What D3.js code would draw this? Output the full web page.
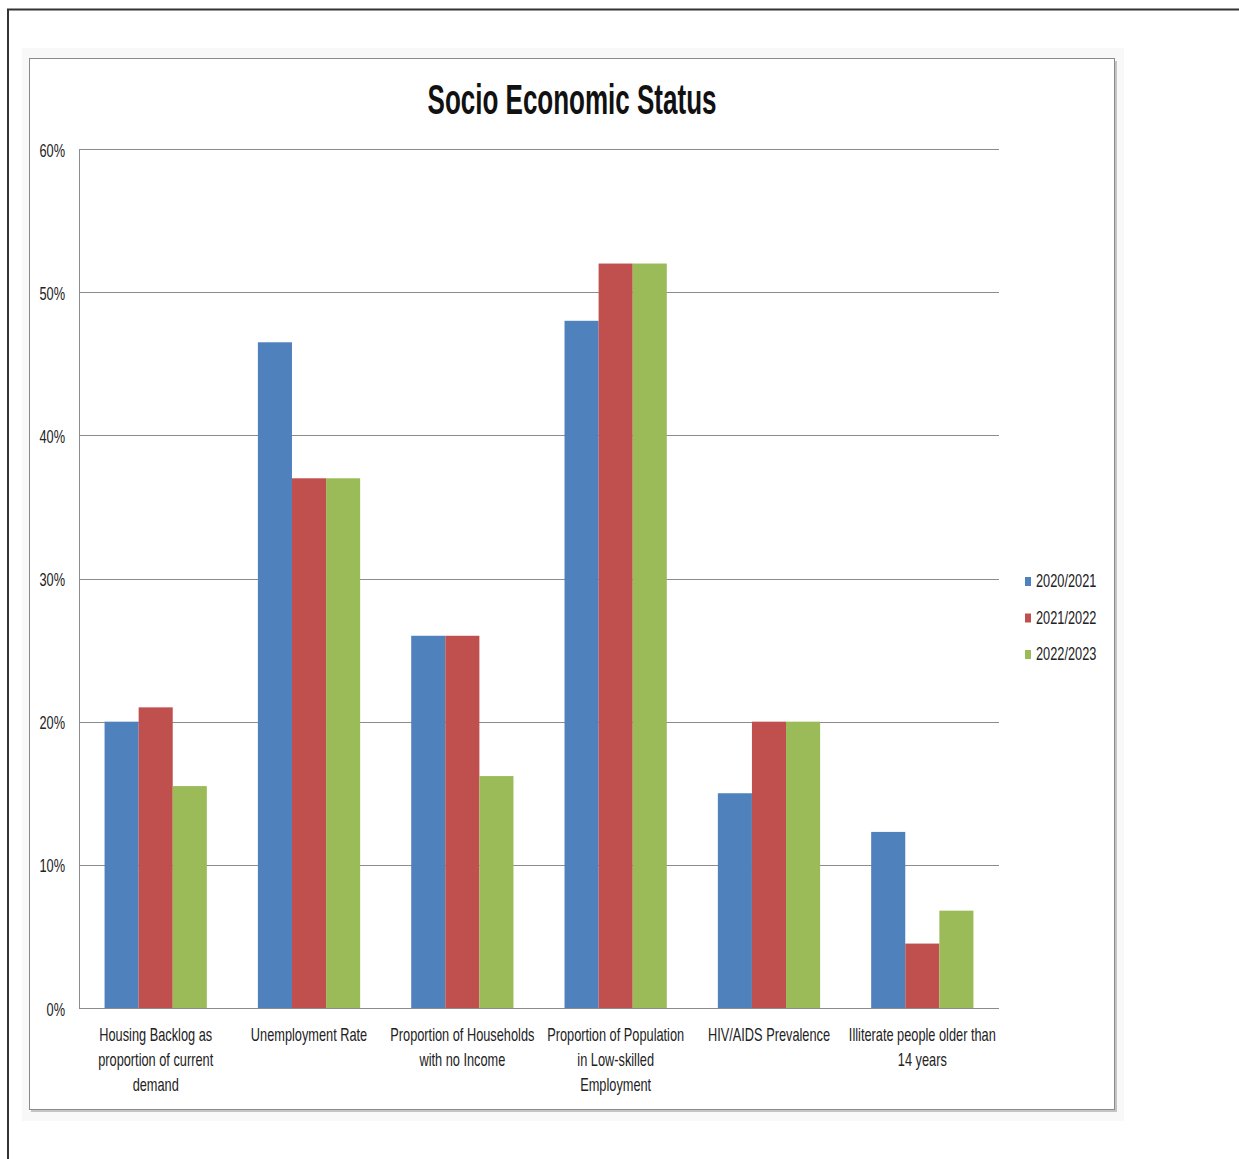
<!DOCTYPE html>
<html><head><meta charset="utf-8">
<script src="https://cdn.jsdelivr.net/npm/d3@7"></script>
<style>html,body{margin:0;padding:0;background:#fff;}svg{display:block;}</style>
</head><body>
<script>
const categories = [
  ["Housing Backlog as", "proportion of current", "demand"],
  ["Unemployment Rate"],
  ["Proportion of Households", "with no Income"],
  ["Proportion of Population", "in Low-skilled", "Employment"],
  ["HIV/AIDS Prevalence"],
  ["Illiterate people older than", "14 years"]
];
const seriesNames = ["2020/2021", "2021/2022", "2022/2023"];
const s2020 = [0.20, 0.465, 0.26, 0.48, 0.15, 0.123];
const s2021 = [0.21, 0.37, 0.26, 0.52, 0.20, 0.045];
const s2022 = [0.155, 0.37, 0.162, 0.52, 0.20, 0.068];
const yTicks = [0, 0.1, 0.2, 0.3, 0.4, 0.5, 0.6];
const colors = ["#4F81BD", "#C0504D", "#9BBB59"];
const title = "Socio Economic Status";

const W = 1239, H = 1159;
const svg = d3.select("body").append("svg").attr("width", W).attr("height", H);
const FONT = "'Liberation Sans', Arial, sans-serif";
const SX = 0.71;

// outer borders
svg.append("rect").attr("x", 8).attr("y", 9.5).attr("width", W + 10).attr("height", H + 10)
  .attr("fill", "none").attr("stroke", "#333").attr("stroke-width", 2);
svg.append("rect").attr("x", 22).attr("y", 48).attr("width", 1102).attr("height", 1073)
  .attr("fill", "#f8f8f8");
// chart frame with shadow
svg.append("rect").attr("x", 31).attr("y", 61).attr("width", 1086).attr("height", 1051).attr("fill", "#c4c4c4");
svg.append("rect").attr("x", 29.5).attr("y", 58.5).attr("width", 1085).attr("height", 1051)
  .attr("fill", "#fff").attr("stroke", "#8a8a8a").attr("stroke-width", 1);

const m = {left: 79, right: 999, top: 149, bottom: 1008};
const x0 = d3.scaleBand().domain(d3.range(categories.length)).range([m.left, m.right]).paddingInner(0.333).paddingOuter(0.1667);
const x1 = d3.scaleBand().domain(d3.range(seriesNames.length)).range([0, x0.bandwidth()]);
const y = d3.scaleLinear().domain([0, 0.6]).range([m.bottom, m.top]);

// gridlines via axis
const yAxis = d3.axisLeft(y).tickValues(yTicks).tickSize(-(m.right - m.left)).tickFormat(d3.format(".0%"));
const gy = svg.append("g").attr("transform", `translate(${m.left},0)`).call(yAxis);
gy.select(".domain").remove();
gy.selectAll(".tick line").attr("stroke", "#8c8c8c").attr("shape-rendering", "crispEdges");
gy.selectAll(".tick text").remove();
gy.selectAll(".tick").each(function(d) {
  d3.select(this).append("text")
    .attr("transform", `translate(-14,7) scale(${SX},1)`)
    .attr("text-anchor", "end").attr("font-family", FONT).attr("font-size", 18).attr("fill", "#222")
    .text(d3.format(".0%")(d));
});
// left axis line
svg.append("line").attr("x1", m.left).attr("x2", m.left).attr("y1", m.top).attr("y2", m.bottom)
  .attr("stroke", "#8c8c8c").attr("shape-rendering", "crispEdges");

// bars
const series = [s2020, s2021, s2022];
const groups = svg.append("g").selectAll("g").data(categories).join("g")
  .attr("transform", (d, i) => `translate(${x0(i)},0)`);
groups.selectAll("rect").data((d, i) => series.map((s, k) => ({k, v: s[i]}))).join("rect")
  .attr("x", d => x1(d.k)).attr("width", x1.bandwidth())
  .attr("y", d => y(d.v)).attr("height", d => y(0) - y(d.v))
  .attr("fill", d => colors[d.k]);

// bottom axis line over bars
svg.append("line").attr("x1", m.left).attr("x2", m.right).attr("y1", m.bottom).attr("y2", m.bottom)
  .attr("stroke", "#8c8c8c").attr("shape-rendering", "crispEdges");

// category labels
categories.forEach((lines, i) => {
  const cx = x0(i) + x0.bandwidth() / 2;
  lines.forEach((ln, j) => {
    svg.append("text")
      .attr("transform", `translate(${cx},${1041 + j * 25}) scale(${SX},1)`)
      .attr("text-anchor", "middle").attr("font-family", FONT).attr("font-size", 18).attr("fill", "#222")
      .text(ln);
  });
});

// title
svg.append("text")
  .attr("transform", `translate(572,114) scale(0.605,1)`)
  .attr("text-anchor", "middle").attr("font-family", FONT).attr("font-weight", "bold")
  .attr("font-size", 43).attr("fill", "#111").text(title);

// legend
const lg = svg.append("g").selectAll("g").data(seriesNames).join("g")
  .attr("transform", (d, i) => `translate(1025,${577 + i * 36.5})`);
lg.append("rect").attr("width", 6).attr("height", 9).attr("fill", (d, i) => colors[i]);
lg.append("text").attr("transform", `translate(11,10) scale(${SX},1)`)
  .attr("font-family", FONT).attr("font-size", 18).attr("fill", "#222").text(d => d);
</script>
</body></html>
